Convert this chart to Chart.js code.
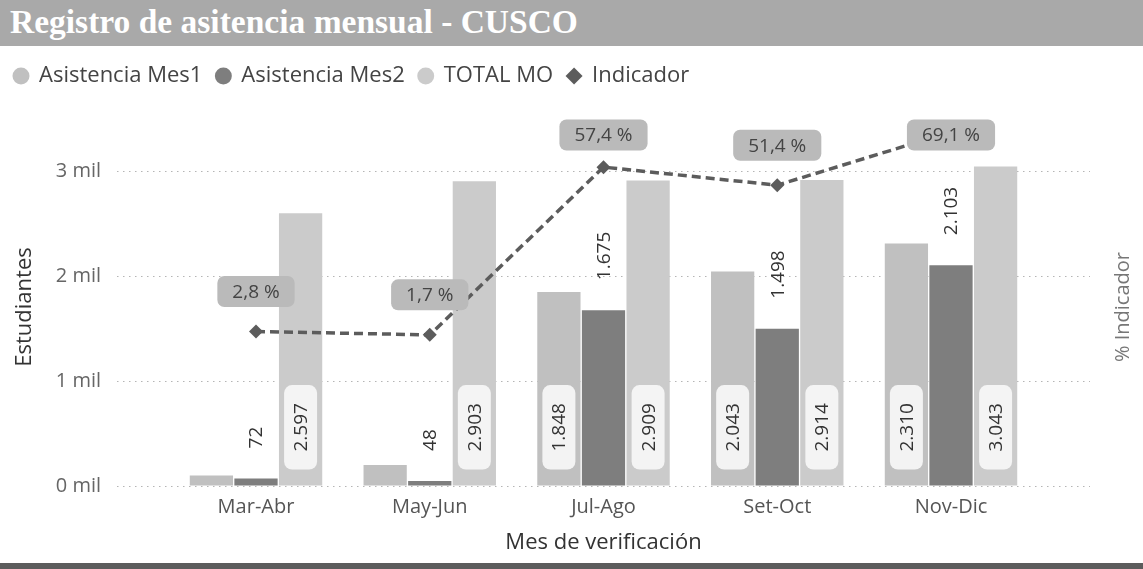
<!DOCTYPE html>
<html>
<head>
<meta charset="utf-8">
<script src="https://cdn.jsdelivr.net/npm/chart.js@4.4.1/dist/chart.umd.min.js"></script>
<style>
  body { margin: 0; background: #fff; }
  #wrap { width: 1143px; height: 569px; overflow: hidden; }
  #titleBar {
    height: 46px; background: #a9a9a9; color: #fff;
    font: bold 33.5px "Liberation Serif", serif; line-height: 44px;
    padding-left: 10px; box-sizing: border-box; white-space: nowrap;
  }
  #chartBox { position: relative; width: 1143px; height: 517px; }
  #bottomBar { height: 6px; background: #5c5c5c; }
</style>
</head>
<body>
<div id="wrap">
  <div id="titleBar">Registro de asitencia mensual - CUSCO</div>
  <div id="chartBox"><canvas id="myChart"></canvas></div>
  <div id="bottomBar"></div>
</div>
<script>
const categories = ['Mar-Abr', 'May-Jun', 'Jul-Ago', 'Set-Oct', 'Nov-Dic'];
const mes1 = [100, 200, 1848, 2043, 2310];
const mes2 = [72, 48, 1675, 1498, 2103];
const totalMO = [2597, 2903, 2909, 2914, 3043];
const indicador = [2.8, 1.7, 57.4, 51.4, 69.1];
const yTicks = [0, 1000, 2000, 3000];

const fmtNum = v => String(v).replace(/\B(?=(\d{3})+(?!\d))/g, '.');
const fmtPct = v => v.toFixed(1).replace('.', ',') + ' %';
const pts = arr => arr.map((v, i) => ({x: i, y: v}));

const labelPlugin = {
  id: 'labelPlugin',
  afterDatasetsDraw(chart) {
    const ctx = chart.ctx;
    const area = chart.chartArea;
    ctx.save();
    ctx.textAlign = 'center';
    ctx.textBaseline = 'middle';
    ctx.font = '19px "Open Sans"';

    // Mes1 and TOTAL MO: rotated label in a light box near the base
    [0, 2].forEach(di => {
      const values = di === 0 ? mes1 : totalMO;
      chart.getDatasetMeta(di).data.forEach((bar, i) => {
        if (values[i] < 500) return;
        const text = fmtNum(values[i]);
        const len = ctx.measureText(text).width + 36;
        const thick = 33;
        ctx.save();
        ctx.translate(bar.x, bar.base - 16 - len / 2);
        ctx.rotate(-Math.PI / 2);
        ctx.fillStyle = 'rgba(246,246,246,0.95)';
        ctx.beginPath();
        ctx.roundRect(-len / 2, -thick / 2, len, thick, 8);
        ctx.fill();
        ctx.fillStyle = '#333';
        ctx.fillText(text, 0, 1);
        ctx.restore();
      });
    });

    // Mes2: rotated label above the bar
    chart.getDatasetMeta(1).data.forEach((bar, i) => {
      const text = fmtNum(mes2[i]);
      const w = ctx.measureText(text).width;
      ctx.save();
      ctx.translate(bar.x, bar.y - 30 - w / 2);
      ctx.rotate(-Math.PI / 2);
      ctx.fillStyle = '#333';
      ctx.fillText(text, 0, 1);
      ctx.restore();
    });

    // Indicador: gray box above the point
    chart.getDatasetMeta(3).data.forEach((pt, i) => {
      const text = fmtPct(indicador[i]);
      const w = ctx.measureText(text).width + 30;
      const h = 31;
      const cy = Math.max(pt.y - 40, area.top + 7);
      ctx.fillStyle = '#bababa';
      ctx.beginPath();
      ctx.roundRect(pt.x - w / 2, cy - h / 2, w, h, 7);
      ctx.fill();
      ctx.fillStyle = '#444';
      ctx.fillText(text, pt.x, cy + 1);
    });

    // right axis title, read bottom to top
    ctx.font = '20px "Open Sans"';
    ctx.fillStyle = '#777';
    ctx.translate(1123, (area.top + area.bottom) / 2);
    ctx.rotate(-Math.PI / 2);
    ctx.fillText('% Indicador', 0, 0);
    ctx.restore();
  }
};

const data = {
  datasets: [{
    type: 'bar',
    label: 'Asistencia Mes1',
    data: pts(mes1),
    backgroundColor: '#c0c0c0',
    order: 1
  }, {
    type: 'bar',
    label: 'Asistencia Mes2',
    data: pts(mes2),
    backgroundColor: '#7e7e7e',
    order: 1
  }, {
    type: 'bar',
    label: 'TOTAL MO',
    data: pts(totalMO),
    backgroundColor: '#cbcbcb',
    order: 1
  }, {
    type: 'line',
    label: 'Indicador',
    data: pts(indicador),
    yAxisID: 'y1',
    borderColor: '#5c5c5c',
    backgroundColor: '#5c5c5c',
    borderWidth: 3.5,
    borderDash: [9, 5],
    pointStyle: 'rectRot',
    pointRadius: 7,
    pointBorderWidth: 0,
    pointBackgroundColor: '#5c5c5c',
    tension: 0,
    order: 0
  }]
};

const config = {
  data,
  options: {
    responsive: true,
    maintainAspectRatio: false,
    animation: false,
    layout: { padding: { top: 5, left: 0, right: 0, bottom: 0 } },
    categoryPercentage: 0.77,
    barPercentage: 0.97,
    plugins: {
      tooltip: { enabled: false },
      legend: {
        position: 'top',
        align: 'start',
        labels: {
          usePointStyle: true,
          boxWidth: 14,
          boxHeight: 12,
          padding: 14,
          color: '#444',
          font: { family: '"Open Sans"', size: 22 },
          sort: (a, b) => a.datasetIndex - b.datasetIndex,
          generateLabels: chart => Chart.defaults.plugins.legend.labels.generateLabels(chart)
            .map(l => Object.assign(l, { lineWidth: 0, lineDash: [] }))
        }
      },
      subtitle: {
        display: true,
        text: '',
        weight: 500,
        font: { size: 10 },
        padding: { top: 19, bottom: 0 }
      }
    },
    scales: {
      x: {
        type: 'linear',
        offset: false,
        min: -0.8,
        max: 4.8,
        afterBuildTicks: s => { s.ticks = categories.map((c, i) => ({value: i})); },
        afterFit: s => { s.height = 77; },
        grid: { display: false, drawTicks: false },
        border: { display: false },
        ticks: {
          padding: 9,
          color: '#555',
          font: { family: '"Open Sans"', size: 20 },
          callback: v => categories[v]
        },
        title: {
          display: true,
          text: 'Mes de verificación',
          color: '#333',
          font: { family: '"Open Sans"', size: 22 },
          padding: { top: 0, bottom: 7 }
        }
      },
      y: {
        position: 'left',
        min: 0,
        max: 3410,
        afterBuildTicks: s => { s.ticks = yTicks.map(v => ({value: v})); },
        afterFit: s => { s.width = 117; },
        grid: { color: '#b5b5b5', lineWidth: 1, drawTicks: false },
        border: { display: false, dash: [1.5, 4.5] },
        ticks: {
          padding: 16,
          color: '#666',
          font: { family: '"Open Sans"', size: 20 },
          callback: v => (v / 1000) + ' mil'
        },
        title: {
          display: true,
          text: 'Estudiantes',
          color: '#333',
          font: { family: '"Open Sans"', size: 22 },
          padding: { top: 12, bottom: 0 }
        }
      },
      y1: {
        position: 'right',
        min: -48.5,
        max: 70.4,
        afterFit: s => { s.width = 53; },
        grid: { display: false, drawTicks: false },
        border: { display: false },
        ticks: { display: false }
      }
    }
  },
  plugins: [labelPlugin]
};

const myChart = new Chart(document.getElementById('myChart'), config);
</script>
</body>
</html>
